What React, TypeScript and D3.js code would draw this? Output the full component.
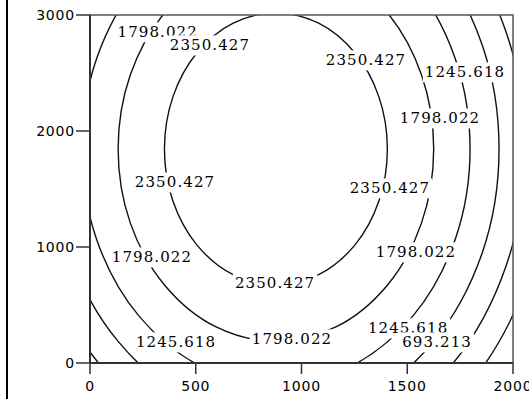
import React, { useEffect, useRef } from 'react';
import * as d3 from 'd3';

const W = 529;
const H = 399;
const M = { left: 90, right: 16, top: 15, bottom: 36 };

const xTicks = [0, 500, 1000, 1500, 2000];
const yTicks = [0, 1000, 2000, 3000];

// contour levels, lowest first
const levels = [-411.595, 140.809, 693.213, 1245.618, 1798.022, 2350.427];

// one closed ring of [x, y] points per level (same order as levels)
const ring0: [number, number][] = [
  [2171, 1845], [2073, 2945], [1793, 3877], [1373, 4499], [879, 4718], [385, 4499], [-35, 3877], [-315, 2945],
  [-413, 1845], [-315, 745], [-35, -187], [385, -809], [879, -1028], [1373, -809], [1793, -187], [2073, 745],
];
const ring1: [number, number][] = [
  [2058, 1845], [1968, 2849], [1713, 3700], [1330, 4268], [879, 4468], [428, 4268], [45, 3700], [-210, 2849],
  [-300, 1845], [-210, 841], [45, -10], [428, -578], [879, -778], [1330, -578], [1713, -10], [1968, 841],
];
const ring2: [number, number][] = [
  [1934, 1845], [1854, 2743], [1625, 3504], [1283, 4013], [879, 4191], [475, 4013], [133, 3504], [-96, 2743],
  [-176, 1845], [-96, 947], [133, 186], [475, -323], [879, -501], [1283, -323], [1625, 186], [1854, 947],
];
const ring3: [number, number][] = [
  [1797, 1845], [1727, 2623], [1528, 3282], [1230, 3722], [879, 3877], [528, 3722], [230, 3282], [31, 2623],
  [-39, 1845], [31, 1067], [230, 408], [528, -32], [879, -187], [1230, -32], [1528, 408], [1727, 1067],
];
const ring4: [number, number][] = [
  [1625, 1845], [1568, 2480], [1407, 3017], [1165, 3377], [879, 3503], [594, 3377], [352, 3017], [190, 2480],
  [133, 1845], [190, 1210], [352, 673], [594, 313], [879, 187], [1165, 313], [1407, 673], [1568, 1210],
];
const ring5: [number, number][] = [
  [1406, 1845], [1366, 2294], [1252, 2674], [1081, 2929], [879, 3018], [677, 2929], [506, 2674], [392, 2294],
  [352, 1845], [392, 1396], [506, 1016], [677, 761], [879, 672], [1081, 761], [1252, 1016], [1366, 1396],
];
const rings = [ring0, ring1, ring2, ring3, ring4, ring5];

// inline contour labels: level index and position in data units
const labelLevel = [4, 5, 5, 3, 4, 5, 5, 4, 4, 5, 4, 3, 3, 2];
const labelX = [320, 567, 1305, 1773, 1655, 402, 1418, 293, 1541, 875, 955, 407, 1504, 1641];
const labelY = [2855, 2741, 2612, 2509, 2112, 1560, 1509, 914, 957, 690, 207, 181, 302, 181];

export default function App() {
  const ref = useRef<SVGSVGElement>(null);

  useEffect(() => {
    const svg = d3.select(ref.current);
    svg.selectAll('*').remove();

    const x = d3.scaleLinear().domain([0, 2000]).range([M.left, W - M.right]);
    const y = d3.scaleLinear().domain([0, 3000]).range([H - M.bottom, M.top]);
    const [x0, x1] = x.range();
    const [y0, y1] = [y(3000), y(0)];

    svg.append('rect').attr('width', W).attr('height', H).attr('fill', '#fff');
    svg.append('rect').attr('x', 6).attr('y', 0).attr('width', 2).attr('height', H).attr('fill', '#000');

    svg.append('defs').append('clipPath').attr('id', 'plot-clip')
      .append('rect').attr('x', x0).attr('y', y0).attr('width', x1 - x0).attr('height', y1 - y0);

    const line = d3.line<[number, number]>()
      .x(d => x(d[0]))
      .y(d => y(d[1]))
      .curve(d3.curveCatmullRomClosed);

    const plot = svg.append('g').attr('clip-path', 'url(#plot-clip)');
    plot.selectAll('path.contour')
      .data(rings)
      .join('path')
      .attr('class', 'contour')
      .attr('d', d => line(d))
      .attr('fill', 'none')
      .attr('stroke', '#111')
      .attr('stroke-width', 1.4);

    // labels with a white backing that breaks the line
    const labels = plot.append('g');
    labelLevel.forEach((li, i) => {
      const g = labels.append('g').attr('transform', `translate(${x(labelX[i])},${y(labelY[i])})`);
      const bg = g.append('rect').attr('fill', '#fff');
      const t = g.append('text')
        .attr('text-anchor', 'middle')
        .attr('dy', '0.36em')
        .attr('font-family', '"DejaVu Serif", serif')
        .attr('font-size', 15)
        .attr('letter-spacing', 1.1)
        .attr('fill', '#000')
        .text(levels[li].toFixed(3));
      const b = (t.node() as SVGTextElement).getBBox();
      bg.attr('x', b.x - 2).attr('y', b.y - 1).attr('width', b.width + 4).attr('height', b.height + 2);
    });

    // frame
    svg.append('rect')
      .attr('x', x0).attr('y', y0).attr('width', x1 - x0).attr('height', y1 - y0)
      .attr('fill', 'none').attr('stroke', '#555').attr('stroke-width', 1.5);
    svg.append('line').attr('x1', x0).attr('x2', x0).attr('y1', y0).attr('y2', y1)
      .attr('stroke', '#333').attr('stroke-width', 2);
    svg.append('line').attr('x1', x0).attr('x2', x1).attr('y1', y1).attr('y2', y1)
      .attr('stroke', '#333').attr('stroke-width', 2);

    const tickFont = '"DejaVu Sans", sans-serif';
    const xt = svg.append('g');
    xTicks.forEach(v => {
      xt.append('line').attr('x1', x(v)).attr('x2', x(v)).attr('y1', y1).attr('y2', y1 + 11)
        .attr('stroke', '#333').attr('stroke-width', 1.5);
      xt.append('text').attr('x', x(v)).attr('y', y1 + 23).attr('dy', '0.36em')
        .attr('text-anchor', 'middle').attr('font-family', tickFont).attr('font-size', 14)
        .attr('letter-spacing', 0.8).attr('fill', '#000').text(String(v));
    });
    const yt = svg.append('g');
    yTicks.forEach(v => {
      yt.append('line').attr('x1', x0 - 14).attr('x2', x0).attr('y1', y(v)).attr('y2', y(v))
        .attr('stroke', '#333').attr('stroke-width', 1.5);
      yt.append('text').attr('x', x0 - 15).attr('y', y(v)).attr('dy', '0.36em')
        .attr('text-anchor', 'end').attr('font-family', tickFont).attr('font-size', 14)
        .attr('letter-spacing', 0.8).attr('fill', '#000').text(String(v));
    });
  }, []);

  return (
    <svg
      ref={ref}
      width={W}
      height={H}
      style={{ position: 'absolute', left: 0, top: 0, display: 'block' }}
    />
  );
}
